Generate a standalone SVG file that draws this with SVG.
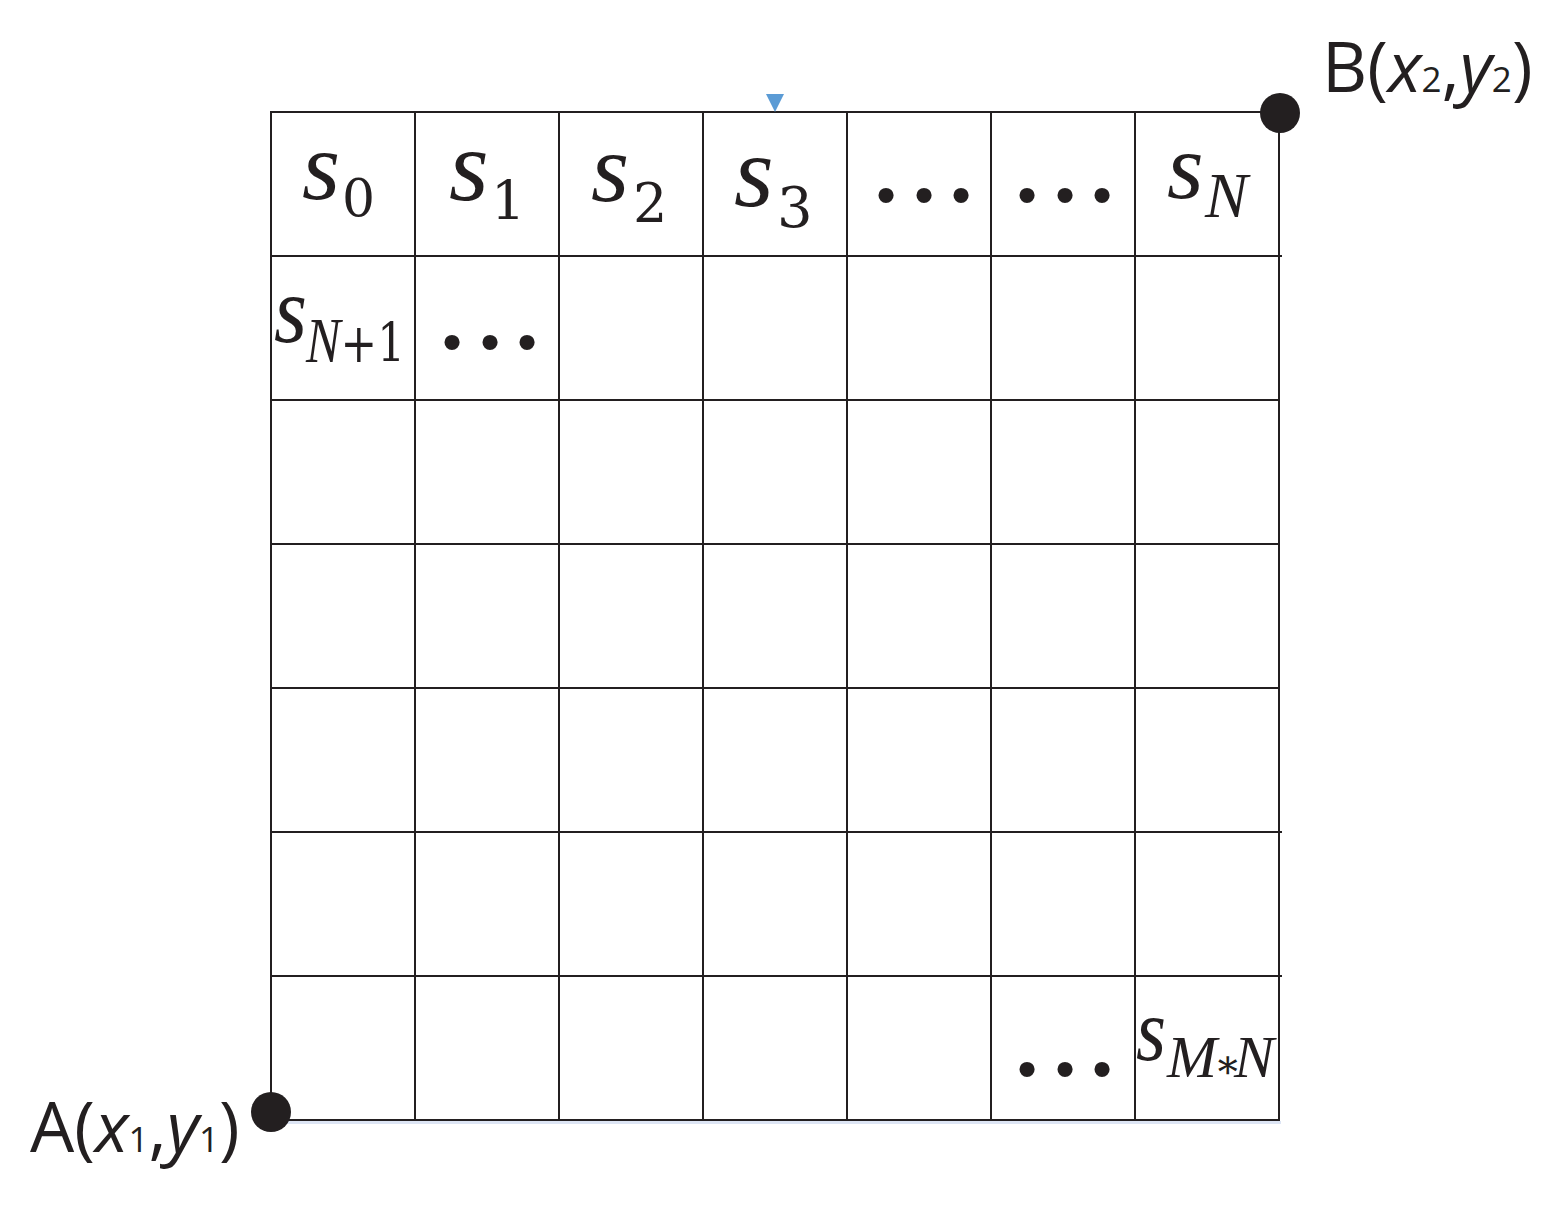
<svg xmlns="http://www.w3.org/2000/svg" width="1556" height="1210" viewBox="0 0 1556 1210">
<style>
.grid line{stroke:#231f20;stroke-width:2}
.s{font-family:"Liberation Serif",serif;font-style:italic;fill:#231f20}
.sub{font-family:"DejaVu Serif","Liberation Serif",serif;font-style:normal;fill:#231f20}
.subi{font-family:"Liberation Serif",serif;font-style:italic;fill:#231f20}
.dots{font-family:"Liberation Sans",sans-serif;font-size:56px;fill:#231f20}
.lab{font-family:"Open Sans","Liberation Sans",sans-serif;font-size:70px;fill:#231f20}
.pt{fill:#231f20}
</style>
<rect width="1556" height="1210" fill="#fff"/>
<g id="grid" class="grid">
<line x1="272" y1="1122.5" x2="1281" y2="1122.5" style="stroke:#dde5f4;stroke-width:3"/>
<line x1="271" y1="112" x2="1280" y2="112"/>
<line x1="271" y1="256" x2="1282" y2="256"/>
<line x1="271" y1="400" x2="1279" y2="400"/>
<line x1="271" y1="544" x2="1280" y2="544"/>
<line x1="271" y1="688" x2="1280" y2="688"/>
<line x1="271" y1="832" x2="1282" y2="832"/>
<line x1="271" y1="976" x2="1282" y2="976"/>
<line x1="271" y1="1120" x2="1280" y2="1120"/>
<line x1="271" y1="111" x2="271" y2="1121"/>
<line x1="415" y1="111" x2="415" y2="1121"/>
<line x1="559" y1="111" x2="559" y2="1121"/>
<line x1="703" y1="111" x2="703" y2="1121"/>
<line x1="847" y1="111" x2="847" y2="1121"/>
<line x1="991" y1="111" x2="991" y2="1121"/>
<line x1="1135" y1="111" x2="1135" y2="1121"/>
<line x1="1279" y1="111" x2="1279" y2="1121"/>
</g>
<g id="marker-top">
<polygon points="766,94 784,94 775,112" fill="#5b9bd5"/>
</g>
<g id="cell-s0"><text class="s" font-size="98"><tspan x="302" y="199">s</tspan><tspan class="sub" font-size="52" x="342" y="216">0</tspan></text></g>
<g id="cell-s1"><text class="s" font-size="102"><tspan x="449" y="200">s</tspan><tspan class="sub" font-size="54" x="491" y="220">1</tspan></text></g>
<g id="cell-s2"><text class="s" font-size="98"><tspan x="591" y="201">s</tspan><tspan class="sub" font-size="54" x="633" y="222">2</tspan></text></g>
<g id="cell-s3"><text class="s" font-size="102"><tspan x="734" y="206">s</tspan><tspan class="sub" font-size="56" x="777" y="227">3</tspan></text></g>
<g id="cell-dots-1"><text class="dots" x="886 924 961" y="214" text-anchor="middle">•••</text></g>
<g id="cell-dots-2"><text class="dots" x="1027 1065 1102" y="214" text-anchor="middle">•••</text></g>
<g id="cell-sN"><text class="s" font-size="94"><tspan x="1167" y="198">s</tspan><tspan class="subi" font-size="64" x="1205" y="217">N</tspan></text></g>
<g id="cell-sN1"><text class="s" font-size="96"><tspan x="274" y="342" textLength="33" lengthAdjust="spacingAndGlyphs">s</tspan><tspan class="sub" font-size="54" x="306" y="362" textLength="99" lengthAdjust="spacingAndGlyphs"><tspan class="subi" font-size="64">N</tspan>+1</tspan></text></g>
<g id="cell-dots-3"><text class="dots" x="452 490 527" y="361" text-anchor="middle">•••</text></g>
<g id="cell-dots-4"><text class="dots" x="1027 1065 1102" y="1088" text-anchor="middle">•••</text></g>
<g id="cell-sMN"><text class="s" font-size="88"><tspan x="1136" y="1060" textLength="30" lengthAdjust="spacingAndGlyphs">s</tspan><tspan class="subi" font-size="60" x="1167" y="1077">M</tspan><tspan class="sub" font-size="40" x="1214" y="1078">∗</tspan><tspan class="subi" font-size="60" x="1234" y="1077">N</tspan></text></g>
<g id="point-A">
<circle cx="271" cy="1112" r="20" class="pt"/>
<text class="lab" x="30" y="1152">A(<tspan font-style="italic">x</tspan><tspan font-size="35">1</tspan>,<tspan font-style="italic">y</tspan><tspan font-size="35">1</tspan>)</text>
</g>
<g id="point-B">
<circle cx="1280" cy="113" r="20" class="pt"/>
<text class="lab" x="1322" y="92">B(<tspan font-style="italic">x</tspan><tspan font-size="35">2</tspan>,<tspan font-style="italic">y</tspan><tspan font-size="35">2</tspan>)</text>
</g>
</svg>
